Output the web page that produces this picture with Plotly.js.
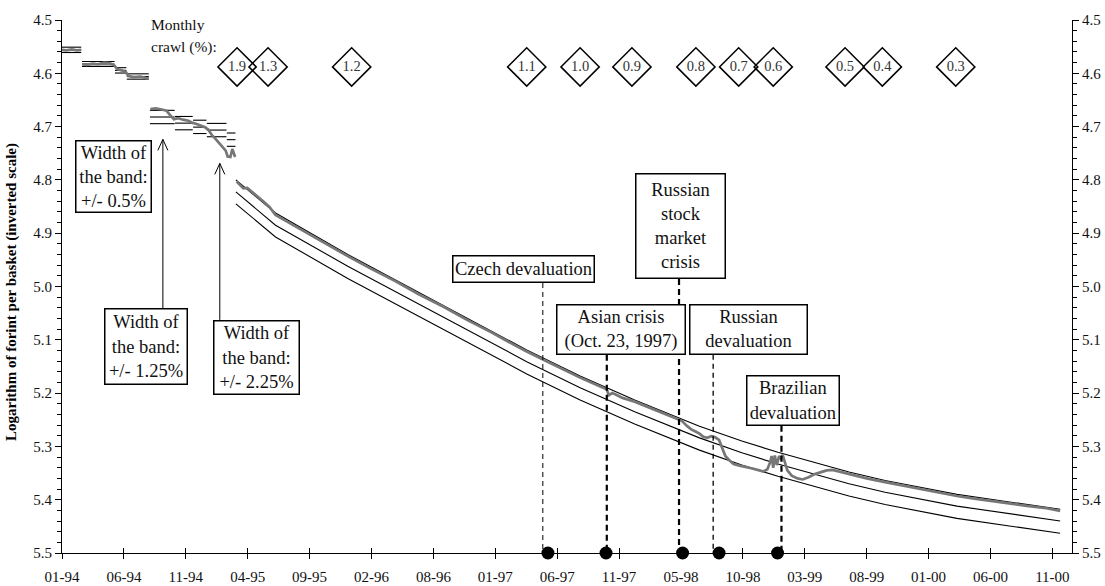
<!DOCTYPE html>
<html><head><meta charset="utf-8">
<script src="https://cdn.plot.ly/plotly-3.0.1.min.js"></script>
<style>html,body{margin:0;padding:0;background:#fff;}#chart{width:1105px;height:586px;}</style>
</head><body><div id="chart"></div>
<script>
// ---------------- DATA ----------------
const tickLabels = ['01-94','06-94','11-94','04-95','09-95','02-96','08-96','01-97','06-97','11-97','05-98','10-98','03-99','08-99','01-00','06-00','11-00'];

// exchange rate (log forint per basket), gaps at step devaluations
const rateDates = [
 '1994-01-03','1994-01-14','1994-01-28','1994-02-10','1994-02-21',null,
 '1994-02-23','1994-03-08','1994-03-22','1994-04-05','1994-04-20','1994-05-04','1994-05-16','1994-05-24','1994-06-06','1994-06-15','1994-06-21','1994-07-06','1994-07-21','1994-08-04','1994-08-12',null,
 '1994-08-16','1994-08-30','1994-09-14','1994-09-26','1994-10-06','1994-10-15','1994-10-26','1994-11-07','1994-11-21','1994-12-02','1994-12-12','1994-12-21','1995-01-02','1995-01-11','1995-01-20','1995-01-28','1995-02-06','1995-02-15','1995-02-24','1995-03-01','1995-03-08','1995-03-13','1995-03-20',null,
 '1995-03-24','1995-04-01','1995-04-10','1995-04-20','1995-05-02','1995-05-16','1995-06-01','1995-06-16','1995-07-01','1995-08-01','1995-09-01','1995-10-01','1995-11-01','1995-12-01',
 '1996-01-01','1996-03-01','1996-05-01','1996-07-01','1996-09-01','1996-11-01','1997-01-01','1997-03-01','1997-04-01','1997-06-01','1997-08-15','1997-10-01','1997-10-22','1997-10-27','1997-11-05','1997-11-15','1997-12-01',
 '1998-01-01','1998-02-15','1998-04-01','1998-05-01','1998-05-15','1998-05-25','1998-06-05','1998-06-15','1998-06-25','1998-07-05','1998-07-15','1998-07-25','1998-08-04','1998-08-10','1998-08-20','1998-08-30','1998-09-10','1998-09-25','1998-10-10','1998-10-25','1998-11-10','1998-11-25','1998-12-05','1998-12-12','1998-12-16','1998-12-20','1998-12-24','1998-12-29',
 '1999-01-04','1999-01-08','1999-01-13','1999-01-18','1999-01-25','1999-02-05','1999-02-20','1999-03-05','1999-03-20','1999-04-05','1999-04-20','1999-05-05','1999-05-20','1999-06-10','1999-07-01','1999-08-15','1999-10-01','1999-12-01',
 '2000-02-01','2000-04-01','2000-05-15','2000-07-01','2000-08-15','2000-10-01','2000-11-15','2000-12-20'];
const rateValues = [
 4.556,4.557,4.555,4.557,4.556,null,
 4.583,4.584,4.582,4.583,4.580,4.581,4.585,4.592,4.595,4.598,4.605,4.607,4.606,4.609,4.610,null,
 4.667,4.666,4.668,4.670,4.679,4.686,4.684,4.687,4.689,4.693,4.695,4.698,4.701,4.706,4.716,4.722,4.729,4.737,4.745,4.756,4.757,4.742,4.757,null,
 4.803,4.810,4.816,4.815,4.823,4.831,4.841,4.851,4.866,4.879,4.891,4.904,4.918,4.930,
 4.943,4.967,4.990,5.015,5.038,5.063,5.086,5.110,5.122,5.144,5.171,5.186,5.193,5.204,5.200,5.203,5.209,
 5.216,5.229,5.243,5.252,5.262,5.268,5.272,5.276,5.282,5.284,5.281,5.283,5.288,5.300,5.318,5.326,5.333,5.336,5.338,5.341,5.344,5.347,5.343,5.330,5.318,5.340,5.317,5.335,
 5.318,5.322,5.316,5.330,5.345,5.355,5.360,5.362,5.358,5.352,5.348,5.345,5.344,5.348,5.351,5.360,5.367,5.376,
 5.384,5.393,5.398,5.403,5.407,5.412,5.416,5.421];

// intervention band: strong edge, central parity, weak edge
const bandDates = [
 '1994-01-03','1994-02-21',null,'1994-02-23','1994-05-17',null,'1994-05-18','1994-06-16',null,'1994-06-17','1994-08-12',null,
 '1994-08-15','1994-10-17',null,'1994-10-18','1994-12-02',null,'1994-12-03','1995-01-06',null,'1995-01-07','1995-02-26',null,'1995-02-27','1995-03-21',null,
 '1995-03-22','1995-07-01','1996-01-01','1997-04-01','1997-08-15','1998-01-01','1998-06-15','1998-10-01','1999-01-01','1999-07-01','1999-10-01','2000-04-01','2000-12-20'];
const bandUpper = [
 4.551,4.551,null,4.578,4.578,null,4.5895,4.5895,null,4.601,4.601,null,
 4.6695,4.6695,null,4.681,4.681,null,4.688,4.688,null,4.694,4.694,null,4.712,4.712,null,
 4.800,4.862,4.940,5.119,5.168,5.213,5.262,5.290,5.311,5.348,5.364,5.390,5.418];
const bandCentral = [
 4.556,4.556,null,4.5825,4.5825,null,4.5945,4.5945,null,4.606,4.606,null,
 4.682,4.682,null,4.6935,4.6935,null,4.701,4.701,null,4.7065,4.7065,null,4.7245,4.7245,null,
 4.8225,4.885,4.962,5.141,5.190,5.235,5.284,5.312,5.333,5.370,5.386,5.412,5.440];
const bandLower = [
 4.561,4.561,null,4.587,4.587,null,4.5995,4.5995,null,4.611,4.611,null,
 4.6945,4.6945,null,4.706,4.706,null,4.713,4.713,null,4.719,4.719,null,4.737,4.737,null,
 4.845,4.907,4.985,5.164,5.213,5.258,5.307,5.335,5.356,5.393,5.409,5.435,5.463];

// monthly crawl (%) markers
const crawlDates = ['1995-03-25','1995-06-12','1996-01-11','1997-04-01','1997-08-15','1997-12-25','1998-06-06','1998-09-23','1998-12-20','1999-06-21','1999-09-24','2000-03-29'];
const crawlRates = ['1.9','1.3','1.2','1.1','1.0','0.9','0.8','0.7','0.6','0.5','0.4','0.3'];

// events
const eventLabels = ['Czech devaluation','Asian crisis<br>(Oct. 23, 1997)','Russian<br>stock<br>market<br>crisis','Russian<br>devaluation','Brazilian<br>devaluation'];
const eventDates = ['1997-05-25','1997-10-20','1998-05-03','1998-08-04','1998-12-31'];
const leaderDates = ['1997-05-12','1997-10-22','1998-04-24','1998-07-20','1999-01-10'];

// band-width notes
const bandWidthLabels = ['Width of<br>the band:<br>+/- 0.5%','Width of<br>the band:<br>+/- 1.25%','Width of<br>the band:<br>+/- 2.25%'];
const arrowDates = ['1994-09-17','1995-02-09'];
const arrowTips = [4.724, 4.769];

// ---------------- LAYOUT HELPERS ----------------
const L = 62, R = 1072, T = 19.5, B = 553.5;
const px = x => (x - L) / (R - L);
const py = y => (B - y) / (B - T);
const DAY = 864e5;
const t0 = Date.UTC(1994, 0, 3);
const STEP = 157.7;
const tickVals = tickLabels.map((_, k) => t0 + k * STEP * DAY);
const xRange = [t0, t0 + 16.317 * STEP * DAY];
const FONT = 'Liberation Serif, Times New Roman, serif';

const traces = [
 {x: bandDates, y: bandUpper, mode: 'lines', line: {color: '#000', width: 1.1}, hoverinfo: 'skip'},
 {x: bandDates, y: bandCentral, mode: 'lines', line: {color: '#000', width: 1.1}, hoverinfo: 'skip'},
 {x: bandDates, y: bandLower, mode: 'lines', line: {color: '#000', width: 1.1}, hoverinfo: 'skip'},
 {x: rateDates, y: rateValues, mode: 'lines', line: {color: '#777', width: 2.7}, hoverinfo: 'skip'},
 {x: crawlDates, y: crawlDates.map(() => 4.588), xaxis: 'x2', yaxis: 'y', mode: 'markers+text',
  text: crawlRates, textposition: 'middle center', textfont: {family: FONT, size: 14.5, color: '#333'},
  marker: {symbol: 'diamond', size: 29.5, color: 'rgba(255,255,255,0)', line: {color: '#000', width: 1.5}}, cliponaxis: false, hoverinfo: 'skip'},
 {x: eventDates, y: eventDates.map(() => 5.5), xaxis: 'x', yaxis: 'y2', mode: 'markers',
  marker: {symbol: 'circle', size: 13, color: '#000'}, cliponaxis: false, hoverinfo: 'skip'}
];

const boxes = [
 [452, 255, 143, 28], [556, 304, 130, 51], [635, 172.7, 91, 106.3], [689, 304.3, 119, 50.7], [745.7, 375, 93.6, 51]
];
const wBoxes = [[75, 139.3, 77, 73.4], [104, 308, 84, 77], [212.7, 320, 87, 75]];
const leaderTops = [283, 355, 279, 355, 426];
const leaderW = [1, 2.2, 2.2, 1.3, 2.2];

const annotations = [];
function box(text, b) {
  const bw = 1.5, pad = 1;
  annotations.push({xref: 'paper', yref: 'paper', x: px(b[0]), y: py(b[1]), xanchor: 'left', yanchor: 'top',
    text: text, showarrow: false, width: b[2] - 2 * (bw + pad), height: b[3] - 2 * (bw + pad),
    align: 'center', valign: 'middle', bgcolor: '#fff', bordercolor: '#000', borderwidth: bw, borderpad: pad,
    font: {family: FONT, size: 18.5, color: '#111'}});
}
eventLabels.forEach((t, i) => box(t, boxes[i]));
bandWidthLabels.forEach((t, i) => box(t, wBoxes[i]));
annotations.push({xref: 'paper', yref: 'paper', x: px(149), y: py(24), xanchor: 'left', yanchor: 'middle', showarrow: false,
  text: 'Monthly', font: {family: FONT, size: 15.5, color: '#111'}});
annotations.push({xref: 'paper', yref: 'paper', x: px(149), y: py(47), xanchor: 'left', yanchor: 'middle', showarrow: false,
  text: 'crawl (%):', font: {family: FONT, size: 15.5, color: '#111'}});
annotations.push({xref: 'paper', yref: 'paper', x: px(12), y: py(292), xanchor: 'center', yanchor: 'middle', showarrow: false,
  textangle: -90, text: '<b>Logarithm of forint per basket (inverted scale)</b>', font: {family: FONT, size: 15, color: '#000'}});

const shapes = [];
leaderDates.forEach((d, i) => {
  shapes.push({type: 'line', xref: 'x', yref: 'paper', x0: d, x1: d, y0: py(leaderTops[i]), y1: 0,
    line: {color: '#000', width: leaderW[i], dash: leaderW[i] > 1.5 ? '6px,4px' : '5px,4px'}, layer: 'above'});
});
const arrowBottoms = [308, 320];
arrowDates.forEach((d, i) => {
  shapes.push({type: 'line', xref: 'x', yref: 'paper', x0: d, x1: d, y0: py(arrowBottoms[i]), y1: py(T + (arrowTips[i] - 4.5) * 534),
    line: {color: '#000', width: 1}});
  shapes.push({type: 'path', xref: 'x', yref: 'y', xsizemode: 'pixel', ysizemode: 'pixel', xanchor: d, yanchor: arrowTips[i],
    path: 'M-5,-11 L0,0 L5,-11', line: {color: '#000', width: 1}});
});

const yCommon = {range: [5.5, 4.5], tick0: 4.5, dtick: 0.1, tickformat: '.1f', showgrid: false, zeroline: false,
  showline: true, linecolor: '#000', linewidth: 1, ticks: 'outside', ticklen: 6, tickcolor: '#000', tickwidth: 1,
  minor: {dtick: 0.02, tick0: 4.5, ticks: 'outside', ticklen: 4, tickcolor: '#000', tickwidth: 1, showgrid: false},
  tickfont: {family: FONT, size: 15, color: '#111'}, fixedrange: true};

const layout = {
  width: 1105, height: 586, margin: {l: L, r: 1105 - R, t: T, b: 586 - B},
  paper_bgcolor: '#fff', plot_bgcolor: '#fff', showlegend: false,
  xaxis: {type: 'date', range: xRange, tickmode: 'array', tickvals: tickVals, ticktext: tickLabels,
    showgrid: false, zeroline: false, showline: true, linecolor: '#000', linewidth: 1,
    ticks: 'outside', ticklen: 5, tickcolor: '#000', tickwidth: 1, ticklabelstandoff: 5,
    tickfont: {family: FONT, size: 15, color: '#111'}, fixedrange: true},
  xaxis2: {type: 'date', overlaying: 'x', anchor: 'y', side: 'bottom', range: xRange, tickmode: 'array', tickvals: tickVals,
    showticklabels: false, showgrid: false, zeroline: false, showline: false, ticks: 'inside', ticklen: 5, tickcolor: '#000', tickwidth: 1, fixedrange: true},
  yaxis: Object.assign({}, yCommon, {side: 'left'}),
  yaxis2: Object.assign({}, yCommon, {side: 'right', overlaying: 'y', anchor: 'x'}),
  annotations: annotations, shapes: shapes
};

Plotly.newPlot('chart', traces, layout, {staticPlot: true});
</script></body></html>
